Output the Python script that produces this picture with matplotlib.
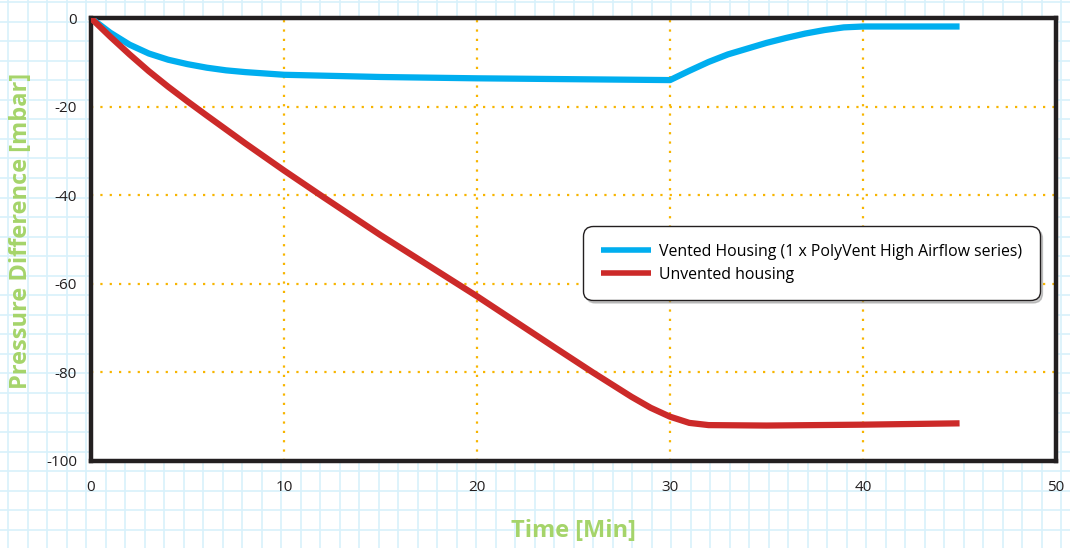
import matplotlib.pyplot as plt
import numpy as np

# Данные
vented_t = [0, 1, 2, 3, 4, 5, 6, 7, 8, 10, 15, 20, 25, 30,
            31, 32, 33, 34, 35, 36, 37, 38, 39, 40, 45]
vented_p = [0, -3.3, -6.0, -8.0, -9.4, -10.4, -11.2, -11.8, -12.2, -12.8, -13.3, -13.6, -13.8, -14.0,
            -11.9, -9.9, -8.2, -6.9, -5.6, -4.5, -3.5, -2.7, -2.1, -1.9, -1.9]

unvented_t = [0, 1, 2, 3, 4, 5, 6, 8, 10, 12, 15, 20, 24, 26, 28, 29, 30, 31, 32, 35, 40, 45]
unvented_p = [0, -4.2, -8.2, -12.0, -15.5, -18.8, -22.0, -28.3, -34.4, -40.3, -49.0, -62.8,
              -74.3, -80.0, -85.5, -88.0, -90.0, -91.4, -91.9, -92.0, -91.8, -91.5]

x_ticks = [0, 10, 20, 30, 40, 50]
y_ticks = [0, -20, -40, -60, -80, -100]

plt.rcParams['font.family'] = ['Open Sans', 'DejaVu Sans']
plt.rcParams['axes.unicode_minus'] = False

fig = plt.figure(figsize=(10.7, 5.48), dpi=100)

# Фон в клетку
bg = fig.add_axes([0, 0, 1, 1], zorder=0)
bg.set_xlim(0, 1070)
bg.set_ylim(548, 0)
bg.axis("off")
for gx in np.arange(8, 1070, 19.5):
    bg.axvline(gx, color="#d8f1fb", lw=1.2)
for gy in np.arange(2, 548, 19.55):
    bg.axhline(gy, color="#d8f1fb", lw=1.2)

ax = fig.add_axes([0.085, 0.1588, 0.902, 0.8082], zorder=1)
ax.set_facecolor("white")

ax.plot(vented_t, vented_p, color="#00aeef", lw=4.5, solid_capstyle="butt", solid_joinstyle="round",
        label="Vented Housing (1 x PolyVent High Airflow series)", zorder=3)
ax.plot(unvented_t, unvented_p, color="#cc2a29", lw=4.5, solid_capstyle="butt", solid_joinstyle="round",
        label="Unvented housing", zorder=3)

ax.set_xlim(0, 50)
ax.set_ylim(-100, 0)
ax.set_xticks(x_ticks)
ax.set_yticks(y_ticks)
ax.tick_params(length=0, labelsize=11, colors="#231f20", pad=10)
ax.tick_params(axis="x", pad=14)

for v in [10, 20, 30, 40]:
    ax.axvline(v, color="#f7b500", lw=1.6, ls=(0, (1, 3.2)), zorder=1)
for v in [-20, -40, -60, -80]:
    ax.axhline(v, color="#f7b500", lw=1.6, ls=(0, (1, 3.2)), zorder=1)

for s in ax.spines.values():
    s.set_linewidth(3.2)
    s.set_color("#231f20")

ax.set_xlabel("Time [Min]", fontsize=17, fontweight="bold", color="#a5d46a", labelpad=17)
ax.set_ylabel("Pressure Difference [mbar]", fontsize=17, fontweight="bold", color="#a5d46a")
ax.yaxis.set_label_coords(-0.06, 0.52)

leg = ax.legend(loc="upper right", bbox_to_anchor=(0.983, 0.53), fontsize=11.4,
                frameon=True, fancybox=True, shadow={"color": "0.55", "alpha": 0.45},
                handlelength=3.2, handletextpad=0.5, borderpad=1.1, labelspacing=0.45,
                borderaxespad=0)
leg.legendPatch.set_boxstyle("round", pad=0, rounding_size=0.6)
leg.get_frame().set_edgecolor("#231f20")
leg.get_frame().set_linewidth(1.0)
for line in leg.get_lines():
    line.set_linewidth(4)

fig.savefig("out.png", dpi=100)
